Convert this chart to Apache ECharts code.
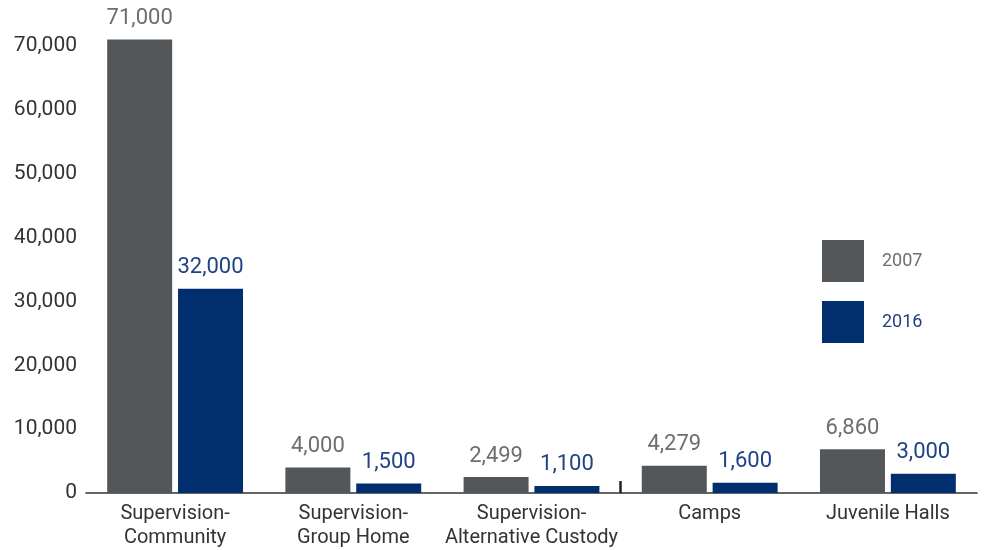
<!DOCTYPE html>
<html><head><meta charset="utf-8">
<script src="https://cdn.jsdelivr.net/npm/echarts@6/dist/echarts.min.js"></script>
<style>html,body{margin:0;padding:0;background:#fff}#c{width:988px;height:550px}</style>
</head><body><div id="c"></div>
<script>
const categories = ['Supervision-\nCommunity','Supervision-\nGroup Home','Supervision-\nAlternative Custody','Camps','Juvenile Halls'];
const values2007 = [71000, 4000, 2499, 4279, 6860];
const values2016 = [32000, 1500, 1100, 1600, 3000];
const yTicks = [0, 10000, 20000, 30000, 40000, 50000, 60000, 70000];
const boundaryTicks = [3];
const FONT = 'Roboto';
const fmt = v => v.toLocaleString('en-US');
const gridBox = {left:86, right:11, top:33.23, bottom:57, containLabel:false, outerBoundsMode:'none'};
const chart = echarts.init(document.getElementById('c'), null, {renderer:'canvas'});
chart.setOption({
  animation:false,
  textStyle:{fontFamily:FONT},
  grid:[Object.assign({}, gridBox), Object.assign({}, gridBox)],
  legend:{
    orient:'vertical', left:817, top:235, itemWidth:42, itemHeight:42, itemGap:19,
    icon:'rect',
    data:[
      {name:'2007', textStyle:{color:'#6d6e71'}},
      {name:'2016', textStyle:{color:'#1f4286'}}
    ],
    textStyle:{fontSize:18, fontFamily:FONT, padding:[0,0,8,13]}
  },
  xAxis:[{
    type:'category', data:categories, gridIndex:0,
    axisLine:{lineStyle:{color:'#333', width:1.5}},
    axisTick:{show:false},
    axisLabel:{fontSize:20, color:'#333', lineHeight:24, margin:9, interval:0, fontFamily:FONT}
  },{
    type:'value', gridIndex:1, min:0, max:categories.length,
    axisLine:{show:false}, splitLine:{show:false}, axisLabel:{show:false},
    axisTick:{show:true, inside:true, length:12, customValues:boundaryTicks, lineStyle:{color:'#222', width:2.5}}
  }],
  yAxis:[{
    type:'value', gridIndex:0, min:yTicks[0], max:72000, interval:10000,
    axisLine:{show:false}, axisTick:{show:false}, splitLine:{show:false},
    axisLabel:{fontSize:21, color:'#333', margin:9, showMaxLabel:false, formatter:v=>fmt(v), fontFamily:FONT}
  },{
    type:'value', gridIndex:1, show:false, min:0, max:1
  }],
  series:[
    {name:'2007', type:'bar', data:values2007, barWidth:65, barGap:'9%',
     itemStyle:{color:'#54575a'},
     label:{show:true, position:'top', distance:10, fontSize:22, color:'#6d6e71', formatter:p=>fmt(p.value), fontFamily:FONT}},
    {name:'2016', type:'bar', data:values2016, barWidth:65,
     itemStyle:{color:'#002e6e'},
     label:{show:true, position:'top', distance:10, fontSize:22, color:'#1f4286', formatter:p=>fmt(p.value), fontFamily:FONT}}
  ]
});
</script></body></html>
